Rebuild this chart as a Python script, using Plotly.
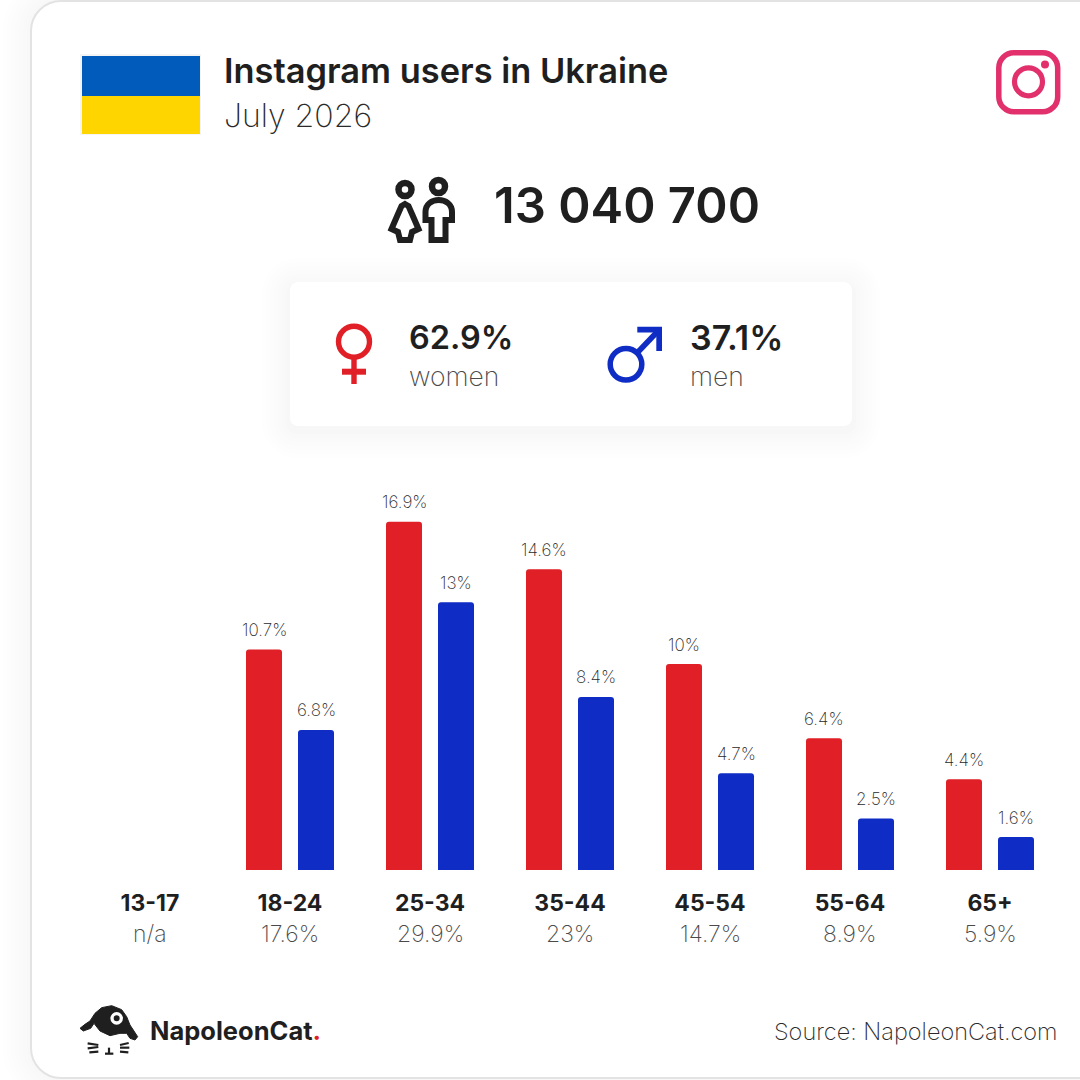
import plotly.graph_objects as go

age_groups = ["13-17", "18-24", "25-34", "35-44", "45-54", "55-64", "65+"]
women_values = [None, 10.7, 16.9, 14.6, 10, 6.4, 4.4]
men_values = [None, 6.8, 13, 8.4, 4.7, 2.5, 1.6]
women_labels = ["", "10.7%", "16.9%", "14.6%", "10%", "6.4%", "4.4%"]
men_labels = ["", "6.8%", "13%", "8.4%", "4.7%", "2.5%", "1.6%"]
age_shares = ["n/a", "17.6%", "29.9%", "23%", "14.7%", "8.9%", "5.9%"]

title_text = "Instagram users in Ukraine"
subtitle_text = "July 2026"
total_text = "13 040 700"
women_share = "62.9%"
men_share = "37.1%"
source_text = "Source: NapoleonCat.com"

RED = "#E01F26"
BLUE = "#0F2DC4"
INK = "#1F1F1F"
FONT = "Inter"
S = 1080.0


def X(v):
    return v / S


def Y(v):
    return 1 - v / S


def pt(a, b):
    return f"{X(a):.5f},{Y(b):.5f}"


def rrect_path(x0, y0, x1, y1, r):
    k = r * 0.45
    return (
        f"M{pt(x0 + r, y0)} L{pt(x1 - r, y0)} "
        f"C{pt(x1 - k, y0)} {pt(x1, y0 + k)} {pt(x1, y0 + r)} "
        f"L{pt(x1, y1 - r)} "
        f"C{pt(x1, y1 - k)} {pt(x1 - k, y1)} {pt(x1 - r, y1)} "
        f"L{pt(x0 + r, y1)} "
        f"C{pt(x0 + k, y1)} {pt(x0, y1 - k)} {pt(x0, y1 - r)} "
        f"L{pt(x0, y0 + r)} "
        f"C{pt(x0, y0 + k)} {pt(x0 + k, y0)} {pt(x0 + r, y0)} Z"
    )


def poly_path(pts, close=True):
    s = "M" + " L".join(pt(a, b) for a, b in pts)
    return s + (" Z" if close else "")


shapes = []


def add_path(path, fill=None, line=None, width=0):
    shapes.append(dict(type="path", xref="paper", yref="paper", layer="below", path=path,
                       fillcolor=fill or "rgba(0,0,0,0)",
                       line=dict(color=line or "rgba(0,0,0,0)", width=width)))


def add_rrect(x0, y0, x1, y1, r, fill=None, line=None, width=0):
    add_path(rrect_path(x0, y0, x1, y1, r), fill, line, width)


def add_rect(x0, y0, x1, y1, fill):
    shapes.append(dict(type="rect", xref="paper", yref="paper", layer="below",
                       x0=X(x0), x1=X(x1), y0=Y(y0), y1=Y(y1),
                       fillcolor=fill, line=dict(width=0)))


def add_circle(cx, cy, r, fill=None, line=None, width=0):
    shapes.append(dict(type="circle", xref="paper", yref="paper", layer="below",
                       x0=X(cx - r), x1=X(cx + r), y0=Y(cy + r), y1=Y(cy - r),
                       fillcolor=fill or "rgba(0,0,0,0)",
                       line=dict(color=line or "rgba(0,0,0,0)", width=width)))


def add_poly(pts, fill=None, line=None, width=0, close=True):
    add_path(poly_path(pts, close), fill, line, width)


# outer card shadow and card
for i, grey in enumerate([254, 253, 252, 251, 250, 249, 248]):
    e = 28 - i * 4
    add_rrect(31 - e, 1 - e, 1140, 1078 + e, 30 + e, fill=f"rgb({grey},{grey},{grey})")
add_rrect(31, 1, 1140, 1078, 30, fill="white", line="#E3E3E3", width=2)

# flag
add_rect(80, 54, 201, 135, "#F4F4F4")
add_rect(82, 56, 200, 96, "#005BBB")
add_rect(82, 96, 200, 134, "#FFD500")

# instagram icon
add_rrect(998.8, 52.8, 1057.7, 111.7, 15, line="#E1306C", width=5.5)
add_circle(1028.5, 81.8, 14, line="#E1306C", width=5.2)
add_circle(1045, 64.5, 4, fill="#E1306C")

# people icon
add_circle(405, 189.5, 6.5, line=INK, width=6.5)
add_circle(438.5, 186.5, 6.5, line=INK, width=6.5)
add_poly([(405, 204), (408.5, 206), (412, 214), (418.5, 229), (412, 232), (410, 240),
          (400, 240), (398, 232), (391.5, 229), (398, 214), (401.5, 206)],
         line=INK, width=6)
add_path(f"M{pt(425.5, 220)} L{pt(425.5, 212)} C{pt(425.5, 196)} {pt(452, 196)} {pt(452, 212)} "
         f"L{pt(452, 220)} L{pt(445.5, 220)} L{pt(445.5, 240)} L{pt(431.5, 240)} L{pt(431.5, 220)} Z",
         line=INK, width=6)

# gender card with soft shadow
for i, grey in enumerate([254, 253, 252, 251, 250, 249, 247]):
    e = 28 - i * 4
    add_rrect(290 - e, 282 - e + 4, 852 + e, 426 + e + 4, 8 + e, fill=f"rgb({grey},{grey},{grey})")
add_rrect(290, 282, 852, 426, 8, fill="white")

# female sign
add_circle(354, 341.7, 15.5, line=RED, width=5.4)
add_rect(351.3, 357, 356.7, 384, RED)
add_rect(342, 368.7, 366, 374.7, RED)

# male sign
add_circle(626, 364.3, 15.8, line=BLUE, width=5.5)
add_poly([(637.5, 352.5), (658, 331)], line=BLUE, width=5.5, close=False)
add_poly([(637.3, 326.7), (662, 326.7), (662, 351), (656.3, 351), (656.3, 332.4), (637.3, 332.4)], fill=BLUE)

# logo cat
cx = lambda v: 70 + v / 3
cy = lambda v: 995 + v / 3
cat_pts = [(30, 100), (45, 88), (60, 78), (75, 55), (95, 38), (125, 32), (155, 44), (170, 65),
           (180, 90), (203, 125), (195, 135), (180, 130), (170, 115), (150, 115), (120, 122),
           (90, 108), (72, 85), (62, 100), (40, 108)]
add_poly([(cx(a), cy(b)) for a, b in cat_pts], fill=INK, line=INK, width=1)
add_circle(cx(140), cy(70), 6.3, fill="white")
add_circle(cx(140), cy(70), 3, fill=INK)
for seg in [[(53, 145), (85, 150)], [(53, 160), (85, 156)], [(150, 150), (176, 144)], [(150, 158), (178, 158)],
            [(117, 158), (117, 174)], [(105, 176), (130, 176)], [(58, 172), (85, 170)], [(150, 170), (175, 172)]]:
    add_poly([(cx(a), cy(b)) for a, b in seg], line=INK, width=2.2, close=False)

annotations = []


def text(x, y, s, size, color=INK, weight=400, anchor="left"):
    annotations.append(dict(xref="paper", yref="paper", x=X(x), y=Y(y), text=s,
                            showarrow=False, xanchor=anchor, yanchor="middle",
                            font=dict(family=FONT, size=size, color=color, weight=weight)))


text(222, 70.5, title_text, 34.4, INK, 600)
text(222, 115, subtitle_text, 32, "#2A2A2A", 200)
text(492, 205, total_text, 49, INK, 600)
text(407, 337, women_share, 32.5, INK, 600)
text(407, 376, "women", 26.5, "#4A4A4A", 200)
text(688, 337, men_share, 34, INK, 600)
text(688, 376, "men", 26.5, "#4A4A4A", 200)
text(148, 1030, "NapoleonCat<span style='color:#E01F26'>.</span>", 25.5, INK, 700)
text(1060, 1031, source_text, 23.5, "#2A2A2A", 200, anchor="right")

for cat, val, lab, share, ml, mv in zip(age_groups, women_values, women_labels, age_shares, men_labels, men_values):
    annotations.append(dict(xref="x", yref="paper", x=cat, y=Y(934), text=share, showarrow=False,
                            yanchor="middle", font=dict(family=FONT, size=23, color="#4A4A4A", weight=200)))
    if val is not None:
        annotations.append(dict(xref="x", yref="y", x=cat, y=val, xshift=-26, yshift=7.5, text=lab,
                                showarrow=False, yanchor="bottom",
                                font=dict(family=FONT, size=17, color="#2A2A2A", weight=200)))
        annotations.append(dict(xref="x", yref="y", x=cat, y=mv, xshift=26, yshift=7.5, text=ml,
                                showarrow=False, yanchor="bottom",
                                font=dict(family=FONT, size=17, color="#2A2A2A", weight=200)))

fig = go.Figure()
fig.add_bar(x=age_groups, y=women_values, name="women", marker=dict(color=RED, cornerradius=3, line=dict(width=0)))
fig.add_bar(x=age_groups, y=men_values, name="men", marker=dict(color=BLUE, cornerradius=3, line=dict(width=0)))
fig.update_layout(
    width=1080, height=1080, margin=dict(l=0, r=0, t=0, b=0), autosize=False,
    paper_bgcolor="white", plot_bgcolor="rgba(0,0,0,0)", showlegend=False,
    barmode="group", bargap=36 / 140, bargroupgap=16 / 52,
    shapes=shapes, annotations=annotations,
    xaxis=dict(domain=[80 / S, 1060 / S], type="category", categoryorder="array", categoryarray=age_groups,
               range=[-0.5, 6.5], showgrid=False, zeroline=False, showline=False, ticks="",
               ticklabelstandoff=17, automargin=False,
               tickfont=dict(family=FONT, size=23, color=INK, weight=700)),
    yaxis=dict(domain=[1 - 870 / S, 1 - 500 / S], range=[0, 370 / 20.6], visible=False,
               showgrid=False, zeroline=False, automargin=False),
)
fig.write_html("out.html", config={"displayModeBar": False},
               post_script="document.body.style.margin='0';document.documentElement.style.overflow='hidden';")
